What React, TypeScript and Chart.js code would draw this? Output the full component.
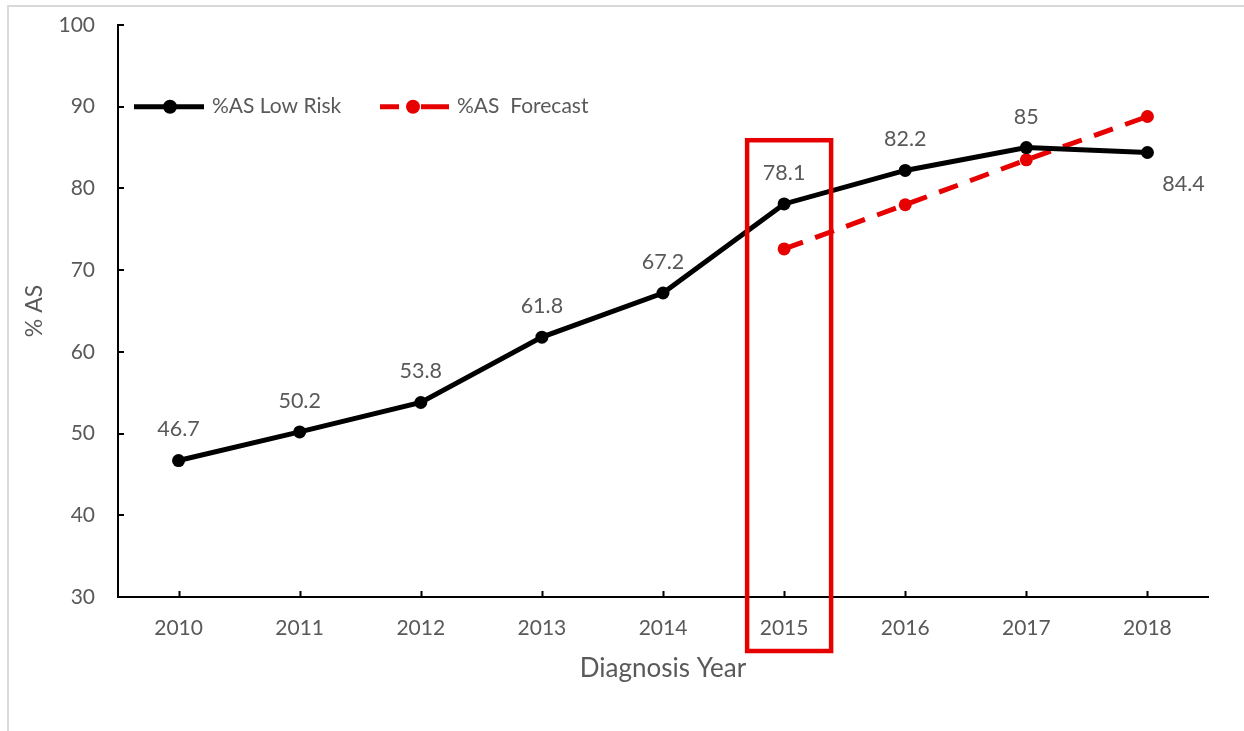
import React, { useEffect, useRef } from "react";
import { Chart, registerables } from "chart.js";

Chart.register(...registerables);

const years = ["2010", "2011", "2012", "2013", "2014", "2015", "2016", "2017", "2018"];
const lowRisk = [46.7, 50.2, 53.8, 61.8, 67.2, 78.1, 82.2, 85, 84.4];
const forecast = [null, null, null, null, null, 72.6, 78.0, 83.5, 88.8];
const lowRiskLabels = ["46.7", "50.2", "53.8", "61.8", "67.2", "78.1", "82.2", "85", "84.4"];
const seriesNames = ["%AS Low Risk", "%AS  Forecast"];
const highlightIndex = 5;
const yMin = 30;
const yMax = 100;
const yStep = 10;

const TEXT = "#595959";
const RED = "#e60000";
const FONT = "Lato, 'Open Sans', sans-serif";

const customPlugin = {
  id: "custom",
  beforeDraw(chart: any) {
    const ctx = chart.ctx;
    ctx.save();
    ctx.fillStyle = "#ffffff";
    ctx.fillRect(0, 0, chart.width, chart.height);
    ctx.strokeStyle = "#d9d9d9";
    ctx.lineWidth = 2;
    ctx.beginPath();
    ctx.moveTo(chart.width, 6);
    ctx.lineTo(8, 6);
    ctx.lineTo(8, chart.height);
    ctx.stroke();
    ctx.restore();
  },
  afterDatasetsDraw(chart: any) {
    const ctx = chart.ctx;
    const xs = chart.scales.x;
    const ys = chart.scales.y;
    const area = chart.chartArea;
    ctx.save();
    // inside tick marks
    ctx.strokeStyle = "#000";
    ctx.lineWidth = 2;
    ctx.beginPath();
    for (let i = 0; i < years.length; i++) {
      const px = Math.round(xs.getPixelForValue(i)) + 0.5;
      ctx.moveTo(px, area.bottom);
      ctx.lineTo(px, area.bottom - 6);
    }
    for (let v = yMin; v <= yMax; v += yStep) {
      const py = Math.round(ys.getPixelForValue(v));
      ctx.moveTo(area.left, py);
      ctx.lineTo(area.left + 6, py);
    }
    ctx.stroke();

    // data labels
    const meta = chart.getDatasetMeta(0);
    ctx.fillStyle = TEXT;
    ctx.font = `21.5px ${FONT}`;
    ctx.textAlign = "center";
    ctx.textBaseline = "middle";
    meta.data.forEach((pt: any, i: number) => {
      if (i === lowRisk.length - 1) {
        ctx.fillText(lowRiskLabels[i], pt.x + 36, pt.y + 32);
      } else {
        ctx.fillText(lowRiskLabels[i], pt.x, pt.y - 31);
      }
    });

    // highlight rectangle
    const cx = xs.getPixelForValue(highlightIndex);
    ctx.strokeStyle = RED;
    ctx.lineWidth = 4.5;
    const top = ys.getPixelForValue(85.9);
    ctx.strokeRect(cx - 37, top, 84, area.bottom + 54 - top);

    // legend
    const ly = ys.getPixelForValue(90);
    ctx.lineWidth = 5;
    ctx.strokeStyle = "#000";
    ctx.beginPath();
    ctx.moveTo(134, ly);
    ctx.lineTo(204, ly);
    ctx.stroke();
    ctx.fillStyle = "#000";
    ctx.beginPath();
    ctx.arc(170, ly, 7, 0, Math.PI * 2);
    ctx.fill();
    ctx.strokeStyle = RED;
    ctx.beginPath();
    ctx.moveTo(380, ly);
    ctx.lineTo(399, ly);
    ctx.moveTo(421, ly);
    ctx.lineTo(449, ly);
    ctx.stroke();
    ctx.fillStyle = RED;
    ctx.beginPath();
    ctx.arc(413, ly, 7, 0, Math.PI * 2);
    ctx.fill();
    ctx.fillStyle = TEXT;
    ctx.font = `21px ${FONT}`;
    ctx.textAlign = "left";
    ctx.fillText(seriesNames[0], 212, ly);
    ctx.fillText(seriesNames[1], 457, ly);
    ctx.restore();
  },
};

export default function App() {
  const ref = useRef<HTMLCanvasElement | null>(null);
  useEffect(() => {
    let chart: any = null;
    let cancelled = false;
    const make = () => {
      if (cancelled || !ref.current) return;
      chart = new Chart(ref.current, {
        type: "line",
        data: {
          labels: years,
          datasets: [
            {
              label: seriesNames[0],
              data: lowRisk,
              borderColor: "#000",
              backgroundColor: "#000",
              borderWidth: 5,
              pointRadius: 6.5,
              pointBorderWidth: 0,
              pointBackgroundColor: "#000",
              tension: 0,
            },
            {
              label: seriesNames[1],
              data: forecast as any,
              borderColor: RED,
              backgroundColor: RED,
              borderWidth: 5,
              borderDash: [20, 13],
              pointRadius: 6.5,
              pointBorderWidth: 0,
              pointBackgroundColor: RED,
              tension: 0,
              spanGaps: false,
            },
          ],
        },
        options: {
          responsive: false,
          animation: false,
          devicePixelRatio: 1,
          layout: { padding: { left: 0, top: 25, right: 36, bottom: 0 } },
          plugins: { legend: { display: false }, tooltip: { enabled: false } },
          scales: {
            x: {
              type: "category",
              offset: true,
              grid: { display: false, drawTicks: false },
              border: { display: true, color: "#000", width: 2 },
              ticks: { color: TEXT, font: { family: FONT, size: 21 }, padding: 19 },
              title: {
                display: true,
                text: "Diagnosis Year",
                color: TEXT,
                font: { family: FONT, size: 26 },
                padding: { top: 0, bottom: 47 },
              },
              afterFit: (s: any) => {
                s.height = 134;
                s.paddingLeft = 0;
                s.paddingRight = 0;
              },
            },
            y: {
              min: yMin,
              max: yMax,
              grid: { display: false, drawTicks: false },
              border: { display: true, color: "#000", width: 2 },
              ticks: { stepSize: yStep, color: TEXT, font: { family: FONT, size: 21 }, padding: 23 },
              title: {
                display: true,
                text: "% AS",
                color: TEXT,
                font: { family: FONT, size: 23 },
                padding: { top: 21, bottom: 0 },
              },
              afterFit: (s: any) => {
                s.width = 118;
                s.paddingTop = 0;
                s.paddingBottom = 0;
              },
            },
          },
        } as any,
        plugins: [customPlugin],
      });
    };
    const fonts: any = (document as any).fonts;
    if (fonts && fonts.load) {
      Promise.all([fonts.load(`20px Lato`), fonts.load(`24px Lato`)]).then(make, make);
    } else {
      make();
    }
    return () => {
      cancelled = true;
      if (chart) chart.destroy();
    };
  }, []);
  return (
    <div style={{ position: "absolute", left: 0, top: 0, width: 1244, height: 731, background: "#fff" }}>
      <canvas ref={ref} width={1244} height={731} style={{ display: "block" }} />
    </div>
  );
}
